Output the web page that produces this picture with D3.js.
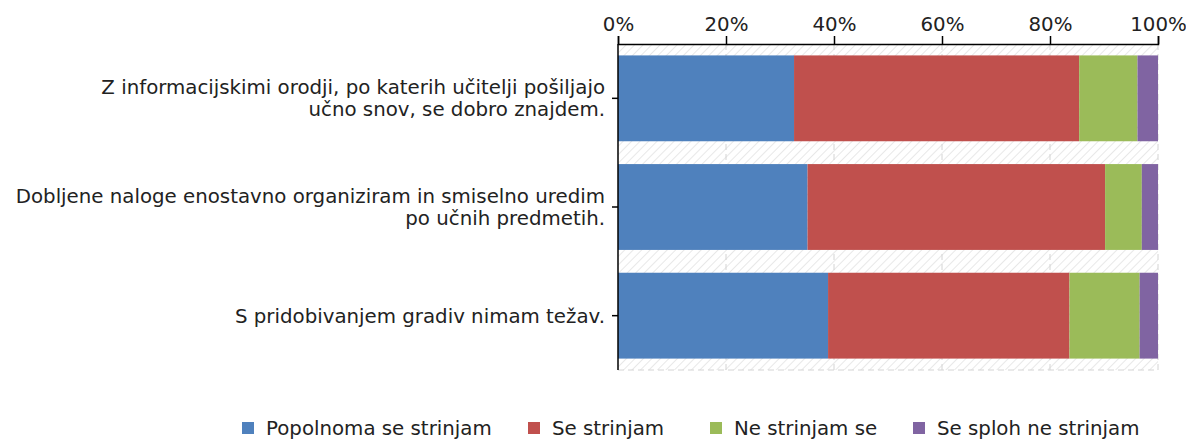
<!DOCTYPE html>
<html><head><meta charset="utf-8">
<script src="https://cdn.jsdelivr.net/npm/d3@7"></script>
<style>body{margin:0;background:#fff;} text{font-family:"DejaVu Sans",Verdana,sans-serif;fill:#222;}</style>
</head><body>
<svg id="c" width="1186" height="439"></svg>
<script>
const categories = [
  ["Z informacijskimi orodji, po katerih učitelji pošiljajo", "učno snov, se dobro znajdem."],
  ["Dobljene naloge enostavno organiziram in smiselno uredim", "po učnih predmetih."],
  ["S pridobivanjem gradiv nimam težav."]
];
const seriesNames = ["Popolnoma se strinjam", "Se strinjam", "Ne strinjam se", "Se sploh ne strinjam"];
const seriesColors = ["#4f81bd", "#c0504d", "#9bbb59", "#8064a2"];
const popolnoma = [32.6, 35.1, 38.9];
const strinjam = [52.8, 55.1, 44.7];
const neStrinjam = [10.8, 6.8, 13.0];
const sploh = [3.8, 3.0, 3.4];
const tickValues = [0, 20, 40, 60, 80, 100];

const FS = "19.8px";
const svg = d3.select("#c");
const L = 618, R = 1158, T = 44, B = 370;
const x = d3.scaleLinear().domain([0, 100]).range([L, R]);
const y = d3.scaleBand().domain(d3.range(categories.length)).range([T, B]).paddingInner(0.21).paddingOuter(0.105);

const defs = svg.append("defs");
const pat = defs.append("pattern").attr("id", "hatch").attr("patternUnits", "userSpaceOnUse")
  .attr("width", 6).attr("height", 6).attr("patternTransform", "rotate(45)");
pat.append("rect").attr("width", 6).attr("height", 6).attr("fill", "#fff");
pat.append("line").attr("x1", 0).attr("y1", 0).attr("x2", 0).attr("y2", 6).attr("stroke", "#e8e8e8").attr("stroke-width", 2);

svg.append("rect").attr("x", L).attr("y", T).attr("width", R - L).attr("height", B - T).attr("fill", "url(#hatch)");

// gridlines
svg.append("g").selectAll("line").data(tickValues.slice(1)).join("line")
  .attr("x1", d => x(d)).attr("x2", d => x(d)).attr("y1", T).attr("y2", B)
  .attr("stroke", "#d4d4d4").attr("stroke-dasharray", "6,4");
svg.append("line").attr("x1", L).attr("x2", R).attr("y1", B).attr("y2", B)
  .attr("stroke", "#d4d4d4").attr("stroke-dasharray", "6,4");

// stacked data
const rows = categories.map((c, i) => ({i, v: [popolnoma[i], strinjam[i], neStrinjam[i], sploh[i]]}));
const keys = [0, 1, 2, 3];
const stack = d3.stack().keys(keys).value((d, k) => d.v[k]);
const stacked = stack(rows);
svg.append("g").selectAll("g").data(stacked).join("g").attr("fill", (d, k) => seriesColors[k])
  .selectAll("rect").data(d => d).join("rect")
  .attr("x", d => x(d[0])).attr("width", d => x(Math.min(d[1], 100)) - x(d[0]))
  .attr("y", d => y(d.data.i)).attr("height", y.bandwidth());

// top axis
const xAxis = svg.append("g").attr("transform", `translate(0,${T})`)
  .call(d3.axisTop(x).tickValues(tickValues).tickFormat(d => d + "%").tickSize(8).tickPadding(5));
xAxis.select(".domain").attr("stroke", "#000").attr("stroke-width", 1.5);
xAxis.selectAll(".tick line").attr("stroke", "#000").attr("stroke-width", 1.5);
xAxis.selectAll("text").style("font-family", '"DejaVu Sans",Verdana,sans-serif').style("font-size", FS).attr("fill", "#222");

// left axis
const yAxis = svg.append("g").attr("transform", `translate(${L},0)`)
  .call(d3.axisLeft(y).tickSize(6).tickFormat(""));
yAxis.select(".domain").attr("d", `M0,${T}V${B}`).attr("stroke", "#000").attr("stroke-width", 1.5);
yAxis.selectAll(".tick line").attr("stroke", "#000").attr("stroke-width", 1.5);

const lab = svg.append("g");
categories.forEach((lines, i) => {
  const cy = y(i) + y.bandwidth() / 2;
  const n = lines.length;
  lines.forEach((t, j) => {
    lab.append("text").attr("x", 605).attr("y", cy + (j - (n - 1) / 2) * 22)
      .attr("dy", "0.35em").attr("text-anchor", "end").style("font-size", FS).text(t);
  });
});

// legend
const legX = [242, 528, 710, 913];
const leg = svg.append("g");
seriesNames.forEach((s, k) => {
  leg.append("rect").attr("x", legX[k]).attr("y", 422).attr("width", 12).attr("height", 12).attr("fill", seriesColors[k]);
  leg.append("text").attr("x", legX[k] + 24).attr("y", 428).attr("dy", "0.35em").style("font-size", FS).text(s);
});
</script>
</body></html>
